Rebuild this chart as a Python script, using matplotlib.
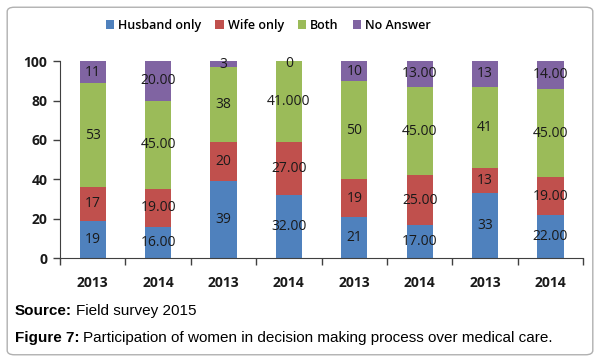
import matplotlib
matplotlib.use("Agg")
import matplotlib.pyplot as plt
from matplotlib.patches import FancyBboxPatch
import numpy as np

years = ["2013", "2014", "2013", "2014", "2013", "2014", "2013", "2014"]
series_names = ["Husband only", "Wife only", "Both", "No Answer"]
husband = [19, 16, 39, 32, 21, 17, 33, 22]
wife = [17, 19, 20, 27, 19, 25, 13, 19]
both = [53, 45, 38, 41, 50, 45, 41, 45]
no_answer = [11, 20, 3, 0, 10, 13, 13, 14]
husband_lbl = ["19", "16.00", "39", "32.00", "21", "17.00", "33", "22.00"]
wife_lbl = ["17", "19.00", "20", "27.00", "19", "25.00", "13", "19.00"]
both_lbl = ["53", "45.00", "38", "41.000", "50", "45.00", "41", "45.00"]
noans_lbl = ["11", "20.00", "3", "0", "10", "13.00", "13", "14.00"]
colors = ["#4F81BD", "#C0504D", "#9BBB59", "#8064A2"]

fig = plt.figure(figsize=(6, 3.62), dpi=100)
fig.patch.set_facecolor("white")
border = FancyBboxPatch((0.012, 0.02), 0.976, 0.96, boxstyle="round,pad=0,rounding_size=0.012",
                        transform=fig.transFigure, facecolor="none", edgecolor="#b0b0b0", lw=1.0,
                        zorder=-5)
fig.patches.append(border)

ax = fig.add_axes([0.1, 0.287, 0.872, 0.544])
ax.patch.set_alpha(0)
x = np.arange(len(years))
w = 0.4
data = [husband, wife, both, no_answer]
labels = [husband_lbl, wife_lbl, both_lbl, noans_lbl]
bottom = np.zeros(len(years))
for vals, lbls, c, name in zip(data, labels, colors, series_names):
    vals = np.array(vals, dtype=float)
    ax.bar(x, vals, w, bottom=bottom, color=c, label=name, zorder=2)
    for xi, b, v, l in zip(x, bottom, vals, lbls):
        yc = b + v / 2
        if v == 0:
            yc = b - 1
        ax.text(xi, yc, l, ha="center", va="center", fontsize=10, color="#1a1a1a",
                family="Open Sans", zorder=3)
    bottom += vals

ax.set_xlim(-0.5, 7.5)
ax.set_ylim(0, 100)
ax.set_yticks([0, 20, 40, 60, 80, 100])
ax.set_xticks(x)
ax.set_xticklabels(years)
ax.set_xticks(np.arange(-0.5, 8, 1), minor=True)
ax.tick_params(axis="x", which="major", length=0, pad=13)
ax.tick_params(axis="x", which="minor", length=5, width=1, color="#404040")
ax.tick_params(axis="y", length=5, width=1, color="#404040", pad=4)
for lab in ax.get_xticklabels() + ax.get_yticklabels():
    lab.set_fontweight("bold")
    lab.set_fontsize(10)
    lab.set_family("Open Sans")
    lab.set_color("#1a1a1a")
for s in ["top", "right"]:
    ax.spines[s].set_visible(False)
ax.spines["left"].set_color("#404040")
ax.spines["bottom"].set_color("#404040")

leg = fig.legend(loc="center", bbox_to_anchor=(0.447, 0.93), ncol=4, frameon=False,
                 handlelength=0.7, handleheight=0.7, handletextpad=0.3, columnspacing=1.1,
                 prop={"family": "Open Sans", "size": 9, "weight": "semibold"})

fig.canvas.draw()
renderer = fig.canvas.get_renderer()

def two_part(xf, yf, bold, rest):
    t = fig.text(xf, yf, bold, fontsize=11, fontweight="bold", family="Liberation Sans", va="center")
    bb = t.get_window_extent(renderer=renderer)
    x2 = bb.x1 / fig.bbox.width + 0.006
    fig.text(x2, yf, rest, fontsize=11, family="Liberation Sans", va="center")

two_part(0.025, 0.141, "Source:", "Field survey 2015")
two_part(0.025, 0.066, "Figure 7:", "Participation of women in decision making process over medical care.")

fig.savefig("out.png", dpi=100, facecolor="white")
